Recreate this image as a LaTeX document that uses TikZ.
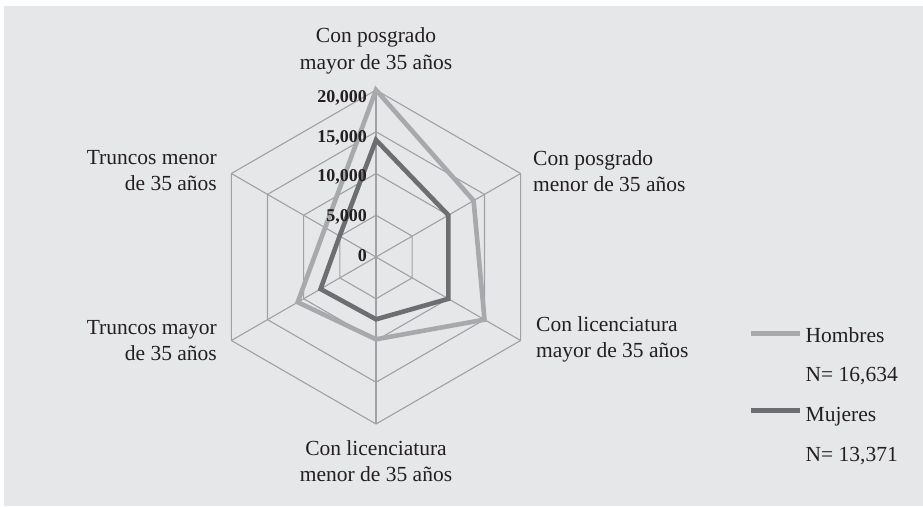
\documentclass[tikz,border=0pt]{standalone}
\usepackage{fontspec}
\setmainfont{Liberation Serif}
\definecolor{bgc}{HTML}{E6E7E8}
\definecolor{gridc}{HTML}{9FA1A4}
\definecolor{hombc}{HTML}{A7A9AC}
\definecolor{mujc}{HTML}{6D6E71}
\definecolor{txtc}{HTML}{231F20}
\tikzset{
  gridline/.style={draw=gridc, line width=1.1pt},
  serie/.style={line width=4.6pt, line join=miter},
  lbl/.style={inner sep=0pt, text=txtc, font=\fontsize{21.5}{26.7}\selectfont},
  tick/.style={inner sep=0pt, text=txtc, anchor=base east, font=\fontsize{18}{20}\selectfont\bfseries},
}
\begin{document}
\begin{tikzpicture}[x=1pt,y=-1pt]
\fill[white] (0,0) rectangle (923,506);
\fill[bgc] (4,6) rectangle (923,506);
\useasboundingbox (0,0) rectangle (923,506);
\begin{scope}[shift={(376,257)}]
  \foreach \r in {41.75,83.5,125.25,167}
    \draw[gridline] (-90:\r) -- (-30:\r) -- (30:\r) -- (90:\r) -- (150:\r) -- (210:\r) -- cycle;
  \foreach \a in {-90,-30,30,90,150,210}
    \draw[gridline] (0,0) -- (\a:167);
  % Hombres
  \coordinate (h1) at (-90:167);
  \coordinate (h2) at (-30:112.7);
  \coordinate (h3) at (30:125.3);
  \coordinate (h4) at (90:82.3);
  \coordinate (h5) at (150:90.4);
  \coordinate (h6) at (210:58.7);
  \draw[serie, draw=hombc] (h1) -- (h2) -- (h3) -- (h4) -- (h5) -- (h6) -- cycle;
  % Mujeres
  \coordinate (m1) at (-90:117);
  \coordinate (m2) at (-30:83.6);
  \coordinate (m3) at (30:83.6);
  \coordinate (m4) at (90:62.3);
  \coordinate (m5) at (150:64);
  \coordinate (m6) at (210:42);
  \draw[serie, draw=mujc] (m1) -- (m2) -- (m3) -- (m4) -- (m5) -- (m6) -- cycle;
\end{scope}
% tick labels
\node[tick] (t0) at (367,261.7) {0};
\node[tick] (t1) at (367,221.8) {5,000};
\node[tick] (t2) at (367,181.9) {10,000};
\node[tick] (t3) at (367,142.0) {15,000};
\node[tick] (t4) at (367,102.2) {20,000};
% category labels
\node[lbl, anchor=base] (c1a) at (376,42) {Con posgrado};
\node[lbl, anchor=base] (c1b) at (376,69) {mayor de 35 años};
\node[lbl, anchor=base west] (c2a) at (533,165) {Con posgrado};
\node[lbl, anchor=base west] (c2b) at (533,191.7) {menor de 35 años};
\node[lbl, anchor=base west] (c3a) at (536,331.7) {Con licenciatura};
\node[lbl, anchor=base west] (c3b) at (536,357.5) {mayor de 35 años};
\node[lbl, anchor=base] (c4a) at (376,455) {Con licenciatura};
\node[lbl, anchor=base] (c4b) at (376,481.7) {menor de 35 años};
\node[lbl, anchor=base east] (c5a) at (217,334) {Truncos mayor};
\node[lbl, anchor=base east] (c5b) at (217,360.7) {de 35 años};
\node[lbl, anchor=base east] (c6a) at (217,164) {Truncos menor};
\node[lbl, anchor=base east] (c6b) at (217,190.7) {de 35 años};
% legend
\coordinate (lh1) at (751,333.3);
\coordinate (lh2) at (800,333.3);
\draw[line width=5pt, draw=hombc] (lh1) -- (lh2);
\node[lbl, anchor=base west] (lgh) at (805.5,342) {Hombres};
\node[lbl, anchor=base west] (lgnh) at (805.5,381.7) {N= 16,634};
\coordinate (lm1) at (751,410);
\coordinate (lm2) at (800,410);
\draw[line width=5pt, draw=mujc] (lm1) -- (lm2);
\node[lbl, anchor=base west] (lgm) at (805.5,421) {Mujeres};
\node[lbl, anchor=base west] (lgnm) at (805.5,461.7) {N= 13,371};
\end{tikzpicture}
\end{document}
